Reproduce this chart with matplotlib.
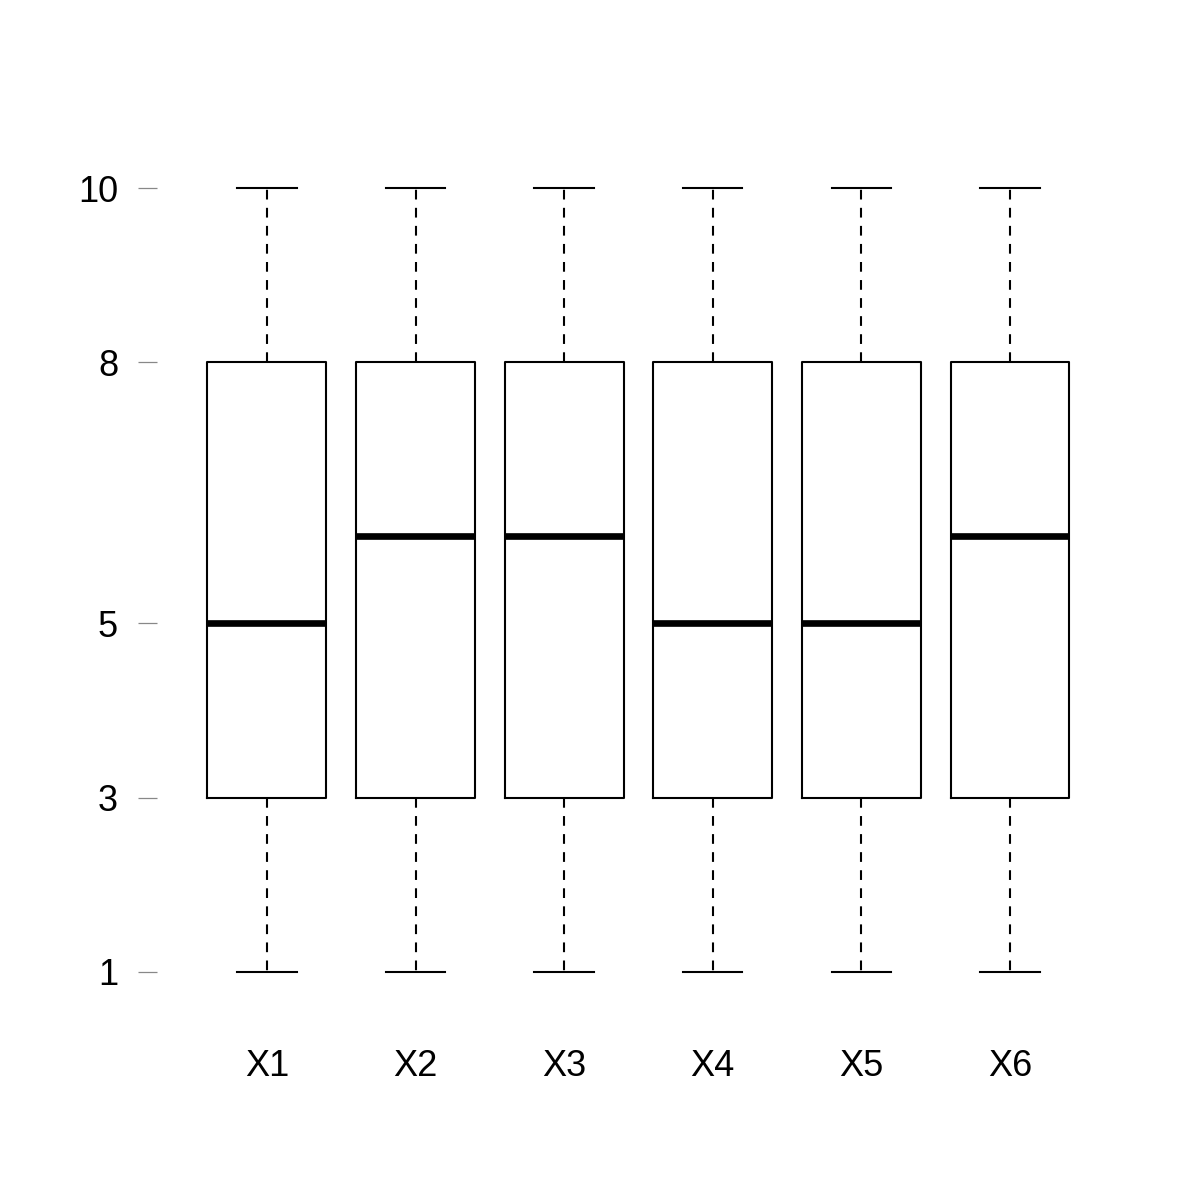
import matplotlib
matplotlib.use("Agg")
import matplotlib.pyplot as plt

plt.rcParams['font.family'] = ['Liberation Sans', 'DejaVu Sans']
plt.rcParams['lines.scale_dashes'] = False

labels = ["X1", "X2", "X3", "X4", "X5", "X6"]
lows = [1, 1, 1, 1, 1, 1]
q1s = [3, 3, 3, 3, 3, 3]
medians = [5, 6, 6, 5, 5, 6]
q3s = [8, 8, 8, 8, 8, 8]
highs = [10, 10, 10, 10, 10, 10]
yticks = [1, 3, 5, 8, 10]


def main():
    stats = []
    for lab, lo, a, m, b, hi in zip(labels, lows, q1s, medians, q3s, highs):
        stats.append(dict(label=lab, whislo=lo, q1=a, med=m, q3=b, whishi=hi, fliers=[]))

    fig = plt.figure(figsize=(12, 12), dpi=100)
    ax = fig.add_axes([0.1308, 0.1642, 0.8025, 0.705])
    ax.bxp(stats, positions=range(1, 7), widths=0.8, showfliers=False,
           boxprops=dict(color="black", linewidth=1.5),
           medianprops=dict(color="black", linewidth=4.8, solid_capstyle="butt"),
           whiskerprops=dict(color="black", linewidth=1.5, linestyle=(0, (7, 6))),
           capprops=dict(color="black", linewidth=1.5),
           capwidths=0.4)

    ax.set_xlim(0.26, 6.74)
    ax.set_ylim(0.64, 10.36)
    for s in ax.spines.values():
        s.set_visible(False)
    ax.set_yticks(yticks)
    ax.set_yticklabels([str(t) for t in yticks])
    ax.tick_params(axis='y', length=14, width=0.9, color="#888888", pad=14, labelsize=26)
    ax.tick_params(axis='x', length=0, pad=33, labelsize=26)
    ax.set_xticks(range(1, 7))
    ax.set_xticklabels(labels)

    fig.savefig("out.png", dpi=100, facecolor="white")


if __name__ == '__main__':
    main()
